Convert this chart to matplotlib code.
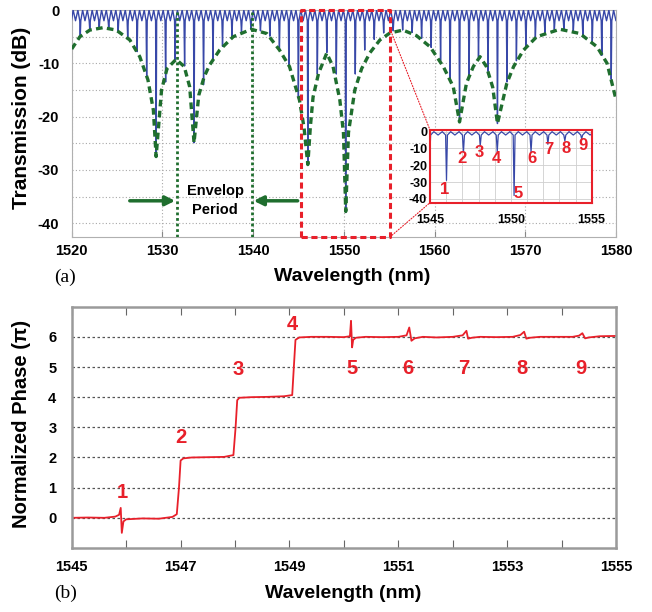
import matplotlib
matplotlib.use("Agg")
import matplotlib.pyplot as plt
from matplotlib.patches import ConnectionPatch

plt.rcParams["font.family"] = ["Liberation Sans", "DejaVu Sans"]
plt.rcParams["font.weight"] = "bold"
plt.rcParams["axes.unicode_minus"] = False

BLUE = "#3848a8"
GREEN = "#1f6e2e"
RED = "#e8202a"

# ---- (a) transmission: comb dips (nm, dB) ----
dip_wl = [
    1519.90, 1520.94, 1521.99, 1523.03, 1524.08, 1525.12, 1526.17, 1527.21, 1528.26, 1529.30,
    1530.35, 1531.39, 1532.44, 1533.48, 1534.53, 1535.57, 1536.62, 1537.66, 1538.71, 1539.75,
    1540.80, 1541.84, 1542.89, 1543.93, 1544.98, 1546.02, 1547.07, 1548.11, 1549.16, 1550.20,
    1551.25, 1552.29, 1553.34, 1554.38, 1555.43, 1556.47, 1557.52, 1558.56, 1559.61, 1560.65,
    1561.70, 1562.74, 1563.79, 1564.83, 1565.88, 1566.92, 1567.97, 1569.01, 1570.06, 1571.10,
    1572.15, 1573.19, 1574.24, 1575.28, 1576.33, 1577.37, 1578.42, 1579.46,
]
dip_db = [
    -6.5, -5.0, -3.8, -3.4, -3.5, -4.0, -5.3, -7.8, -12.5, -27.5,
    -13.5, -9.3, -10.5, -24.9, -14.0, -9.3, -6.8, -5.1, -4.1, -3.6,
    -3.9, -4.9, -7.5, -10.4, -16.5, -29.0, -12.0, -8.0, -12.0, -38.0,
    -12.0, -7.5, -5.5, -4.3, -3.9, -3.75, -4.2, -5.3, -7.0, -9.5,
    -13.0, -21.0, -12.5, -8.9, -11.5, -21.3, -13.5, -9.5, -7.0, -5.2,
    -4.2, -3.7, -3.6, -4.0, -4.7, -6.1, -8.5, -13.0,
]
# ripple shape of one comb period following each dip (offset nm, level dB)
ripple_dx = [0.06, 0.26, 0.52, 0.78, 0.985]
ripple_db = [-2.0, 0.0, -2.0, 0.0, -2.0]

# envelope (green dashed)
env_wl = [
    1520.0, 1520.9, 1522.0, 1523.45, 1524.9, 1526.4, 1527.5, 1528.4, 1529.0, 1529.3,
    1529.9, 1530.5, 1531.5, 1532.4, 1533.0, 1533.48, 1534.0, 1534.6, 1535.2, 1536.3,
    1537.8, 1539.8, 1541.5, 1542.9, 1544.0, 1545.1, 1545.6, 1546.02, 1546.3, 1546.6,
    1547.2, 1548.1, 1548.8, 1549.55, 1549.95, 1550.2, 1550.5, 1551.2, 1551.95, 1552.87,
    1553.97, 1555.07, 1556.5, 1558.0, 1559.5, 1560.95, 1562.05, 1562.74, 1563.5, 1564.26,
    1565.0, 1565.7, 1566.4, 1566.92, 1567.95, 1568.7, 1569.8, 1571.25, 1573.8, 1576.0,
    1577.9, 1579.0, 1580.0,
]
env_db = [
    -7.3, -5.0, -3.75, -3.3, -3.75, -5.6, -8.75, -13.1, -18.8, -27.5,
    -15.0, -11.0, -9.25, -10.6, -14.4, -24.9, -16.0, -12.5, -10.3, -7.5,
    -5.0, -3.6, -4.4, -7.5, -10.6, -16.9, -22.0, -29.0, -21.9, -16.3,
    -11.9, -8.1, -10.6, -16.9, -23.1, -37.8, -23.0, -15.0, -11.0, -8.0,
    -5.6, -4.3, -3.75, -4.8, -6.9, -10.6, -14.4, -21.0, -13.75, -10.6,
    -8.75, -10.6, -14.5, -21.3, -13.75, -10.6, -7.5, -5.0, -3.6, -4.4,
    -6.9, -10.0, -16.9,
]
envelope_period = [1531.55, 1539.9]
zoom_span = [1545.25, 1555.07]

inset_labels = ["1", "2", "3", "4", "5", "6", "7", "8", "9"]
inset_label_wl = [1545.88, 1546.98, 1548.05, 1549.1, 1550.46, 1551.29, 1552.34, 1553.41, 1554.44]
inset_label_db = [-34.7, -15.9, -12.5, -15.9, -37.0, -15.9, -10.9, -9.9, -8.5]

# ---- (b) normalized phase (units of pi) ----
phase_wl = [
    1545.0, 1545.3, 1545.6, 1545.8, 1545.87, 1545.9, 1545.92, 1545.95, 1546.0,
    1546.3, 1546.6, 1546.85, 1546.93, 1546.97, 1547.0, 1547.05, 1547.2,
    1547.5, 1547.8, 1547.97, 1548.01, 1548.04, 1548.08, 1548.3,
    1548.6, 1548.9, 1549.05, 1549.08, 1549.11, 1549.18, 1549.4,
    1549.7, 1550.0, 1550.11, 1550.13, 1550.15, 1550.17, 1550.22, 1550.4,
    1550.7, 1551.0, 1551.15, 1551.2, 1551.24, 1551.3, 1551.45,
    1551.7, 1552.0, 1552.18, 1552.25, 1552.28, 1552.35, 1552.5,
    1552.8, 1553.1, 1553.24, 1553.31, 1553.35, 1553.42, 1553.6,
    1553.9, 1554.2, 1554.32, 1554.38, 1554.43, 1554.5, 1554.7, 1555.0,
]
phase_val = [
    0.0, 0.01, 0.0, 0.04, 0.1, 0.33, -0.5, -0.12, -0.05,
    -0.02, -0.03, 0.03, 0.12, 1.0, 1.9, 1.97, 2.0,
    2.01, 2.02, 2.08, 3.0, 3.9, 3.98, 4.0,
    4.01, 4.03, 4.07, 5.0, 5.9, 5.98, 6.0,
    6.0, 5.99, 6.02, 6.53, 5.65, 5.9, 5.97, 6.0,
    5.99, 6.0, 6.05, 6.31, 5.87, 5.95, 6.0,
    5.98, 6.0, 6.05, 6.2, 5.94, 5.97, 6.0,
    5.99, 6.0, 6.06, 6.17, 5.94, 5.97, 6.0,
    6.0, 6.0, 6.04, 6.12, 5.95, 5.98, 6.02, 6.03,
]
phase_labels = ["1", "2", "3", "4", "5", "6", "7", "8", "9"]
phase_label_wl = [1545.93, 1547.0, 1548.06, 1549.06, 1550.14, 1551.18, 1552.2, 1553.27, 1554.36]
phase_label_val = [0.83, 2.66, 4.93, 6.42, 4.95, 4.95, 4.95, 4.95, 4.95]

# spectrum trace: each dip followed by one period of ripple
spec_wl, spec_db = [], []
for wl, db in zip(dip_wl, dip_db):
    spec_wl.append(wl)
    spec_db.append(db)
    for dx, level in zip(ripple_dx, ripple_db):
        spec_wl.append(wl + dx)
        spec_db.append(level)

fig = plt.figure(figsize=(6.52, 6.12), dpi=100)

# ---------------- panel (a) ----------------
ax1 = fig.add_axes([0.110, 0.6127, 0.835, 0.3717])
ax1.plot(spec_wl, spec_db, color=BLUE, lw=1.0, zorder=3)
ax1.plot(env_wl, env_db, color=GREEN, lw=2.4, ls=(0, (2, 1.3)), zorder=4)
for wl in envelope_period:
    ax1.axvline(wl, color=GREEN, lw=2.0, ls=(0, (1, 1)), zorder=4)
arrow = dict(arrowstyle="-|>", color=GREEN, lw=2.5, mutation_scale=14, shrinkA=0, shrinkB=0)
ax1.annotate("", xy=(1531.4, -35.8), xytext=(1526.4, -35.8), arrowprops=arrow, zorder=5)
ax1.annotate("", xy=(1540.05, -35.8), xytext=(1544.9, -35.8), arrowprops=arrow, zorder=5)
ax1.text(1535.8, -34.0, "Envelop", ha="center", va="center", fontsize=10.5)
ax1.text(1535.8, -37.6, "Period", ha="center", va="center", fontsize=10.5)

ylo = -42.6
ax1.plot([zoom_span[0], zoom_span[0], zoom_span[1], zoom_span[1], zoom_span[0]],
         [ylo, 0, 0, ylo, ylo], color=RED, lw=2.2, ls=(0, (2, 1.2)),
         clip_on=False, zorder=6)

ax1.set_xlim(1520, 1580)
ax1.set_ylim(ylo, 0.1)
ax1.set_xticks(range(1520, 1581, 10))
ax1.set_yticks(range(-40, 1, 5))
ax1.set_yticklabels([str(v) if v % 10 == 0 else "" for v in range(-40, 1, 5)])
ax1.grid(True, color="#a8a8a8", ls=(0, (1, 2)), lw=0.8)
ax1.tick_params(axis="x", direction="in", length=4, color="#888888", pad=5, labelsize=10.5)
ax1.tick_params(axis="y", length=0, pad=9, labelsize=10.5)
for s in ax1.spines.values():
    s.set_color("#b0b0b0")

fig.text(352 / 652, 1 - 277 / 612, "Wavelength (nm)", ha="center", va="center", fontsize=14)
fig.text(22 / 652, 1 - 117.5 / 612, "Transmission (dB)", ha="center", va="center",
         rotation=90, fontsize=15)
fig.text(65 / 652, 1 - 277 / 612, "(a)", ha="center", va="center", fontsize=14,
         family="Liberation Serif", weight="normal")

# inset
axin = fig.add_axes([0.6595, 0.6688, 0.248, 0.1188])
axin.set_facecolor("white")
axin.plot(spec_wl, spec_db, color=BLUE, lw=0.9)
axin.set_xlim(1545, 1555)
axin.set_ylim(-42.3, 1.0)
axin.set_xticks([1545, 1550, 1555])
axin.set_xticks(range(1545, 1556), minor=True)
axin.set_yticks([0, -10, -20, -30, -40])
axin.grid(True, which="both", color="#cfcfcf", lw=0.6)
axin.tick_params(which="both", length=0)
axin.tick_params(axis="x", pad=8, labelsize=9)
axin.tick_params(axis="y", pad=2, labelsize=9)
for s in axin.spines.values():
    s.set_color(RED)
    s.set_linewidth(1.5)
for lab, wl, db in zip(inset_labels, inset_label_wl, inset_label_db):
    axin.text(wl, db, lab, color=RED, fontsize=12, ha="center", va="center")

for yA, yB in ((-3.5, 1), (ylo, 0)):
    con = ConnectionPatch(xyA=(zoom_span[1], yA), coordsA=ax1.transData,
                          xyB=(0, yB), coordsB=axin.transAxes,
                          color=RED, lw=0.8, ls=(0, (1, 1.5)))
    fig.add_artist(con)

# ---------------- panel (b) ----------------
ax2 = fig.add_axes([0.110, 0.1046, 0.835, 0.3943])
ax2.plot(phase_wl, phase_val, color=RED, lw=1.3)
ax2.set_xlim(1545, 1555)
ax2.set_ylim(-1, 7)
ax2.set_xticks(range(1545, 1556))
ax2.set_xticklabels([str(v) if v % 2 == 1 else "" for v in range(1545, 1556)])
ax2.set_yticks(range(0, 7))
ax2.yaxis.grid(True, color="#555555", ls=(0, (2, 2)), lw=0.9)
ax2.tick_params(axis="x", direction="in", top=True, length=6, color="#666666",
                pad=9, labelsize=10.5)
ax2.tick_params(axis="y", length=0, pad=11, labelsize=10.5)
for s in ax2.spines.values():
    s.set_color("#9a9a9a")
    s.set_linewidth(1.8)
for lab, wl, val in zip(phase_labels, phase_label_wl, phase_label_val):
    ax2.text(wl, val, lab, color=RED, fontsize=14.5, ha="center", va="center")

fig.text(343 / 652, 1 - 593 / 612, "Wavelength (nm)", ha="center", va="center", fontsize=14)
fig.text(22 / 652, 1 - 424 / 612, "Normalized Phase (\u03c0)", ha="center", va="center",
         rotation=90, fontsize=14.5)
fig.text(66 / 652, 1 - 593 / 612, "(b)", ha="center", va="center", fontsize=14,
         family="Liberation Serif", weight="normal")

fig.savefig("out.png", dpi=100)
